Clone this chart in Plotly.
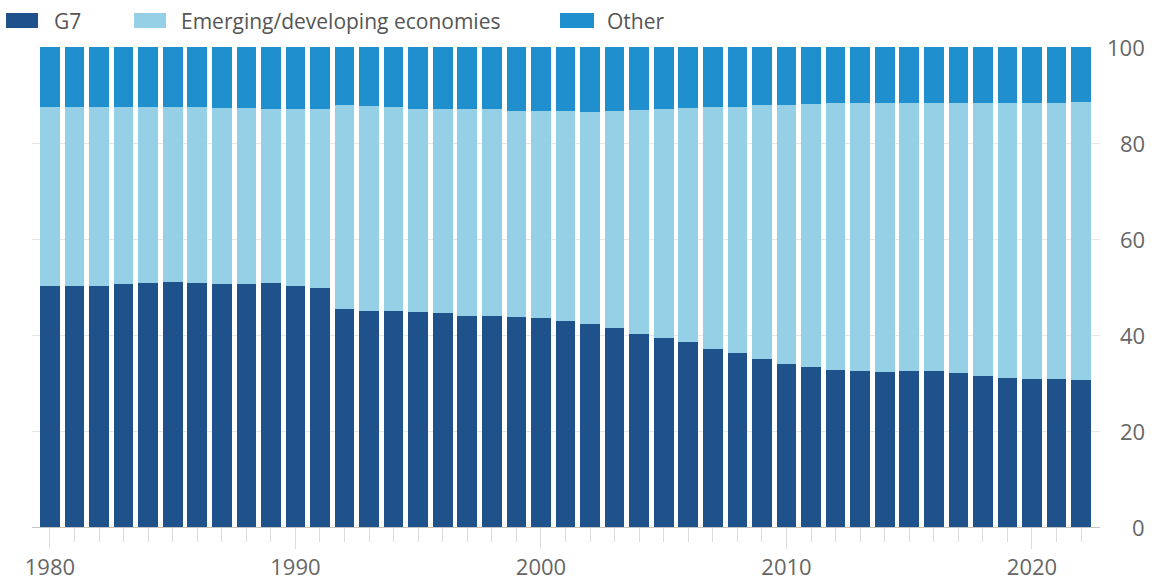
import plotly.graph_objects as go

# ---------------- data ----------------
years = list(range(1980, 2023))

g7 = [50.2, 50.2, 50.2, 50.6, 50.9, 51.0, 50.8, 50.6, 50.7, 50.8,
      50.2, 49.7, 45.5, 45.1, 45.1, 44.7, 44.5, 44.0, 44.0, 43.8,
      43.5, 42.9, 42.2, 41.4, 40.3, 39.4, 38.6, 37.1, 36.3, 35.0,
      34.0, 33.4, 32.7, 32.4, 32.2, 32.6, 32.4, 32.0, 31.5, 31.1,
      30.8, 30.8, 30.6]

emerging = [37.4, 37.4, 37.2, 36.8, 36.5, 36.4, 36.6, 36.6, 36.5, 36.3,
            36.9, 37.4, 42.4, 42.7, 42.5, 42.4, 42.6, 43.0, 43.0, 42.9,
            43.2, 43.8, 44.3, 45.3, 46.6, 47.7, 48.6, 50.3, 51.3, 52.9,
            54.0, 54.7, 55.6, 56.0, 56.2, 55.7, 55.9, 56.3, 56.8, 57.2,
            57.5, 57.5, 57.9]

other = [12.4, 12.4, 12.6, 12.6, 12.6, 12.6, 12.6, 12.8, 12.8, 12.9,
         12.9, 12.9, 12.1, 12.2, 12.4, 12.9, 12.9, 13.0, 13.0, 13.3,
         13.3, 13.3, 13.5, 13.3, 13.1, 12.9, 12.8, 12.6, 12.4, 12.1,
         12.0, 11.9, 11.7, 11.6, 11.6, 11.7, 11.7, 11.7, 11.7, 11.7,
         11.7, 11.7, 11.5]

series_names = ["G7", "Emerging/developing economies", "Other"]
x_tick_years = [1980, 1990, 2000, 2010, 2020]
y_ticks = [0, 20, 40, 60, 80, 100]

# ---------------- style ----------------
colors = ["#1f528a", "#95d0e6", "#1f8fcd"]
FONT = "Open Sans"
TICK_COLOR = "#666666"
W, H = 1158, 582
L, R, T, B = 32, 58, 47, 55
PW, PH = W - L - R, H - T - B


def px(x):
    return (x - L) / PW


def py(y):
    return (H - B - y) / PH


fig = go.Figure()
for name, vals, col in zip(series_names, [g7, emerging, other], colors):
    fig.add_trace(go.Bar(x=years, y=vals, name=name, marker_color=col,
                         marker_line_width=0, showlegend=False))

# custom legend (wide swatches)
legend_items = [(6, 38, 52), (134, 166, 179), (560, 594, 605)]
shapes = []
annotations = []
for (sx0, sx1, tx), name, col in zip(legend_items, series_names, colors):
    shapes.append(dict(type="rect", xref="paper", yref="paper",
                       x0=px(sx0), x1=px(sx1), y0=py(28), y1=py(13),
                       fillcolor=col, line_width=0, layer="above"))
    annotations.append(dict(x=px(tx), y=py(20.5), xref="paper", yref="paper",
                            text=name, showarrow=False, xanchor="left",
                            yanchor="middle",
                            font=dict(family=FONT, size=21, color="#555555")))

# right-aligned y tick labels
for v in y_ticks:
    annotations.append(dict(x=1, xref="paper", y=v, yref="y", text=str(v),
                            showarrow=False, xanchor="right", yanchor="middle",
                            xshift=47,
                            font=dict(family=FONT, size=22, color=TICK_COLOR)))

fig.update_layout(
    width=W, height=H,
    margin=dict(l=L, r=R, t=T, b=B, autoexpand=False),
    barmode="stack", bargap=0.2,
    plot_bgcolor="white", paper_bgcolor="white",
    font=dict(family=FONT, size=22, color=TICK_COLOR),
    shapes=shapes, annotations=annotations,
    xaxis=dict(range=[1979.27, 2022.77], tickvals=x_tick_years,
               ticks="outside", ticklen=21, tickcolor="#dcdcdc", tickwidth=1,
               minor=dict(ticks="outside", dtick=1, tick0=1980, ticklen=14,
                          tickcolor="#dcdcdc", tickwidth=1, showgrid=False),
               showgrid=False, showline=True, linecolor="#c4c4c4",
               linewidth=1, zeroline=False,
               tickfont=dict(family=FONT, size=22, color=TICK_COLOR)),
    yaxis=dict(range=[0, 100], side="right", tickvals=y_ticks,
               showticklabels=False, ticks="", gridcolor="#e3e8ec",
               gridwidth=1, zeroline=False, showline=False),
)

fig.write_html("out.html")
